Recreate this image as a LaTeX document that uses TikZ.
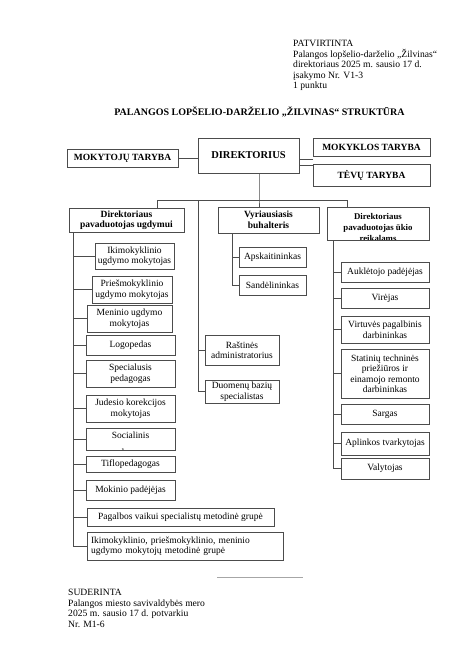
\documentclass[tikz,border=0pt]{standalone}
\usepackage{fontspec}
\setmainfont{Liberation Serif}
\usepackage{tikz}

\begin{document}
\begin{tikzpicture}[x=1pt, y=-1pt,
    box/.style={draw=black!70, line width=0.7pt, align=center, inner sep=1pt, font=\fontsize{9.5}{10.5}\selectfont},
    head/.style={box, font=\bfseries\fontsize{9.5}{10.5}\selectfont},
    link/.style={draw=black!70, line width=0.7pt}]
            \useasboundingbox[fill=white] (0,0) rectangle (474,670);

            % header
            \node[anchor=north west, align=left, inner sep=0, font=\fontsize{9.6}{10.5}\selectfont] (patvirtinta) at (293,40) {PATVIRTINTA\\Palangos lopšelio-darželio „Žilvinas“\\direktoriaus 2025 m. sausio 17 d.\\įsakymo Nr. V1-3\\1 punktu};
            \node[font=\bfseries\fontsize{10}{10.5}\selectfont] (title) at (259.5,112) {PALANGOS LOPŠELIO-DARŽELIO „ŽILVINAS“ STRUKTŪRA};

            % top level
            \node[head, minimum width=111pt, minimum height=18pt] (mokytoju) at (122.5,158) {MOKYTOJŲ TARYBA};
            \node[head, minimum width=101pt, minimum height=35pt, font=\bfseries\fontsize{10.5}{12}\selectfont] (direktorius) at (248.5,155.5) {DIREKTORIUS};
            \node[head, minimum width=117pt, minimum height=18pt] (mokyklos) at (371.5,147) {MOKYKLOS TARYBA};
            \node[head, minimum width=117pt, minimum height=22pt] (tevu) at (371.5,175) {TĖVŲ TARYBA};

            % second level
            \node[head, minimum width=115pt, minimum height=24pt] (ugdymui) at (126.5,220) {Direktoriaus\\pavaduotojas ugdymui};
            \node[head, minimum width=101pt, minimum height=26pt] (buhalteris) at (268.5,220) {Vyriausiasis\\buhalteris};
            \node[head, minimum width=102pt, minimum height=33pt, path picture={
                \node[anchor=north, align=center, inner sep=0, font=\bfseries\fontsize{8.8}{11}\selectfont] at ([yshift=-4pt]path picture bounding box.north) {Direktoriaus\\pavaduotojas ūkio\\reikalams};}] (ukio) at (378,223.5) {};

            % ugdymui
            \node[box, minimum width=79pt, minimum height=26pt] (iki) at (134.5,256) {Ikimokyklinio\\ugdymo mokytojas};
            \node[box, minimum width=80pt, minimum height=27pt] (pries) at (132,289.5) {Priešmokyklinio\\ugdymo mokytojas};
            \node[box, minimum width=85pt, minimum height=27pt] (meninio) at (129.5,318.5) {Meninio ugdymo\\mokytojas};
            \node[box, minimum width=89pt, minimum height=20pt] (logopedas) at (130.5,345) {Logopedas};
            \node[box, minimum width=89pt, minimum height=27pt] (specialusis) at (130.5,373.5) {Specialusis\\pedagogas};
            \node[box, minimum width=89pt, minimum height=27pt] (judesio) at (130.5,408.5) {Judesio korekcijos\\mokytojas};
            \node[box, minimum width=89pt, minimum height=22pt, path picture={
                \node[anchor=north, align=center, inner sep=0, font=\fontsize{9.5}{16.5}\selectfont] at ([yshift=-4pt]path picture bounding box.north) {Socialinis\\pedagogas};}] (socialinis) at (130.5,439) {};
            \node[box, minimum width=89pt, minimum height=16pt] (tiflo) at (130.5,464) {Tiflopedagogas};
            \node[box, minimum width=89pt, minimum height=20pt] (mokinio) at (130.5,490) {Mokinio padėjėjas};
            \node[box, minimum width=187pt, minimum height=18pt] (pagalbos) at (180.5,517) {Pagalbos vaikui specialistų metodinė grupė};
            \node[box, minimum width=196pt, minimum height=28pt, align=left, text width=188pt] (metodine) at (185,546) {Ikimokyklinio, priešmokyklinio, meninio\\ugdymo mokytojų metodinė grupė};

            % buhalteris
            \node[box, minimum width=67pt, minimum height=20pt] (apskaitininkas) at (272.5,257) {Apskaitininkas};
            \node[box, minimum width=67pt, minimum height=20pt] (sandelininkas) at (272.5,285) {Sandėlininkas};
            \node[box, minimum width=74pt, minimum height=30pt] (rastines) at (242,350) {Raštinės\\administratorius};
            \node[box, minimum width=74pt, minimum height=23pt] (duomenu) at (242,391.5) {Duomenų bazių\\specialistas};

            % ukio
            \node[box, minimum width=88pt, minimum height=20pt] (aukletojo) at (385,272) {Auklėtojo padėjėjas};
            \node[box, minimum width=88pt, minimum height=20pt] (virejas) at (385,298) {Virėjas};
            \node[box, minimum width=88pt, minimum height=27pt] (virtuves) at (385,329.5) {Virtuvės pagalbinis\\darbininkas};
            \node[box, minimum width=88pt, minimum height=49pt] (statiniu) at (385,373.5) {Statinių techninės\\priežiūros ir\\einamojo remonto\\darbininkas};
            \node[box, minimum width=88pt, minimum height=20pt] (sargas) at (385,414) {Sargas};
            \node[box, minimum width=88pt, minimum height=23pt] (aplinkos) at (385,443.5) {Aplinkos tvarkytojas};
            \node[box, minimum width=88pt, minimum height=21pt] (valytojas) at (385,468.5) {Valytojas};

            % connectors
            \coordinate (buswest) at (157,200);
            \coordinate (buseast) at (347,200);
            \coordinate (busmid) at (259,200);
            \coordinate (mspine) at (198,200);
            \coordinate (lspine) at (73,0);
            \coordinate (bspine) at (232,0);
            \coordinate (rspine) at (333,0);

            \draw[link] (mokytoju.east) -- (mokytoju.east -| direktorius.west);
            \draw[link] ([yshift=-3.5pt]direktorius.east) -- ([yshift=-3.5pt]direktorius.east -| mokyklos.west);
            \draw[link] ([yshift=-9.5pt]direktorius.east) -- ([yshift=-9.5pt]direktorius.east -| tevu.west);
            \draw[link] (direktorius.south -| busmid) -- (busmid) -- (buhalteris.north -| busmid);
            \draw[link] (buswest) -- (buseast);
            \draw[link] (buswest) -- (buswest |- ugdymui.north);
            \draw[link] (buseast) -- (buseast |- ukio.north);

            \draw[link] (lspine |- ugdymui.south) |- (metodine.west);
            \draw[link] (lspine |- iki) -- (iki.west);
            \draw[link] (lspine |- pries) -- (pries.west);
            \draw[link] (lspine |- meninio) -- (meninio.west);
            \draw[link] (lspine |- logopedas) -- (logopedas.west);
            \draw[link] (lspine |- specialusis) -- (specialusis.west);
            \draw[link] (lspine |- judesio) -- (judesio.west);
            \draw[link] (lspine |- socialinis) -- (socialinis.west);
            \draw[link] (lspine |- tiflo) -- (tiflo.west);
            \draw[link] (lspine |- mokinio) -- (mokinio.west);
            \draw[link] (lspine |- pagalbos) -- (pagalbos.west);

            \draw[link] (bspine |- buhalteris.south) |- (sandelininkas.west);
            \draw[link] (bspine |- apskaitininkas) -- (apskaitininkas.west);
            \draw[link] (mspine) |- (duomenu.west);
            \draw[link] (mspine |- rastines) -- (rastines.west);

            \draw[link] (rspine |- ukio.south) |- (valytojas.west);
            \draw[link] (rspine |- aukletojo) -- (aukletojo.west);
            \draw[link] (rspine |- virejas) -- (virejas.west);
            \draw[link] (rspine |- virtuves) -- (virtuves.west);
            \draw[link] (rspine |- statiniu) -- (statiniu.west);
            \draw[link] (rspine |- sargas) -- (sargas.west);
            \draw[link] (rspine |- aplinkos) -- (aplinkos.west);

            % footer
            \draw[black!35, line width=0.8pt] (217,577) -- (303,577);
            \node[anchor=north west, align=left, inner sep=0, font=\fontsize{9.6}{10.5}\selectfont] (suderinta) at (68,589) {SUDERINTA\\Palangos miesto savivaldybės mero\\2025 m. sausio 17 d. potvarkiu\\Nr. M1-6};
\end{tikzpicture}
\end{document}
